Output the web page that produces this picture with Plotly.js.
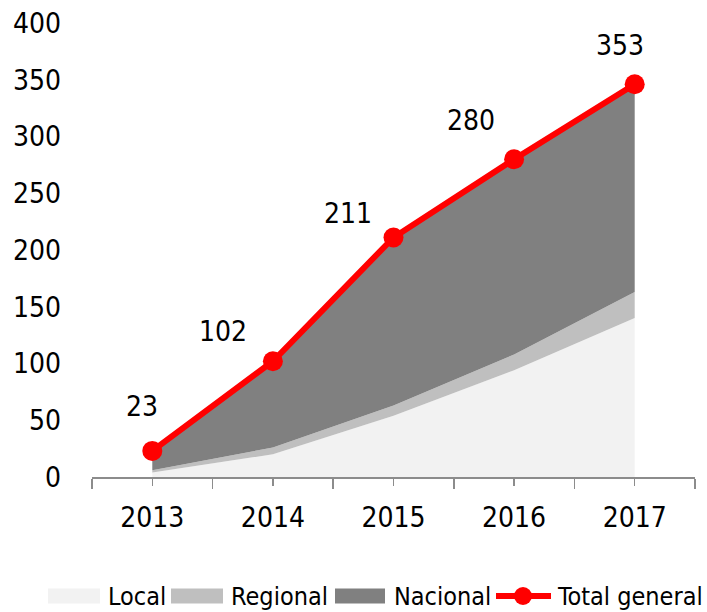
<!DOCTYPE html>
<html>
<head>
<meta charset="utf-8">
<script src="https://cdn.plot.ly/plotly-3.0.1.min.js"></script>
<style>
  html, body { margin: 0; padding: 0; background: #ffffff; }
  #chart { width: 707px; height: 612px; }
</style>
</head>
<body>
<div id="chart"></div>
<script>
// ---- data ----
const years = [2013, 2014, 2015, 2016, 2017];
const yearLabels = ["2013", "2014", "2015", "2016", "2017"];
const local = [4, 20, 54, 94, 140];
const regional = [2, 6, 9, 14, 23];
const nacional = [17, 76, 148, 172, 183];
const totalGeneral = [23, 102, 211, 280, 346];
const totalLabels = ["23", "102", "211", "280", "353"];
const seriesNames = ["Local", "Regional", "Nacional", "Total general"];
const yTicks = [0, 50, 100, 150, 200, 250, 300, 350, 400];

// ---- style ----
const FONT = '"DejaVu Sans Condensed", "Liberation Sans", sans-serif';
const colors = ["#f2f2f2", "#bfbfbf", "#808080", "#ff0000"];
const axisGray = "#8c8c8c";
const M = { l: 92, r: 12, t: 23, b: 135 };
const W = 707, H = 612;
const PW = W - M.l - M.r, PH = H - M.t - M.b;
const px2x = px => (px - M.l) / PW;
const py2y = py => (H - M.b - py) / PH;

// label offsets (pixels, relative to point) as in the original layout
const labelDx = [-10, -50, -46, -43, -15];
const labelDy = [-44, -30, -24, -39, -39];

const areaSeries = [local, regional, nacional];
const traces = areaSeries.map((vals, i) => ({
  type: "scatter",
  mode: "none",
  x: years,
  y: vals,
  name: seriesNames[i],
  stackgroup: "one",
  fillcolor: colors[i],
  line: { width: 0 },
  showlegend: false,
  hoverinfo: "skip"
}));
traces.push({
  type: "scatter",
  mode: "lines+markers",
  x: years,
  y: totalGeneral,
  name: seriesNames[3],
  line: { color: colors[3], width: 6 },
  marker: { color: colors[3], size: 20 },
  showlegend: false,
  cliponaxis: false
});

const annotations = years.map((yr, i) => ({
  x: yr, y: totalGeneral[i], xref: "x", yref: "y",
  text: totalLabels[i], showarrow: false,
  xshift: labelDx[i], yshift: -labelDy[i],
  font: { family: FONT, size: 28, color: "#000" },
  xanchor: "center", yanchor: "middle"
}));

// custom legend (large swatches like the original)
const legY = 596;
const swatches = [[48, 100], [171, 223], [335, 385]];
const textStarts = [106, 229, 392, 555];
const shapes = [];
swatches.forEach((s, i) => {
  shapes.push({
    type: "rect", xref: "paper", yref: "paper",
    x0: px2x(s[0]), x1: px2x(s[1]), y0: py2y(legY + 7.5), y1: py2y(legY - 7.5),
    fillcolor: colors[i], line: { width: 0 }
  });
});
shapes.push({
  type: "line", xref: "paper", yref: "paper",
  x0: px2x(496), x1: px2x(551), y0: py2y(legY), y1: py2y(legY),
  line: { color: colors[3], width: 6 }
});
shapes.push({
  type: "circle", xref: "paper", yref: "paper",
  x0: px2x(514), x1: px2x(532), y0: py2y(legY + 9), y1: py2y(legY - 9),
  fillcolor: colors[3], line: { width: 0 }
});
seriesNames.forEach((nm, i) => {
  annotations.push({
    xref: "paper", yref: "paper", x: px2x(textStarts[i]), y: py2y(legY),
    text: nm, showarrow: false, xanchor: "left", yanchor: "middle",
    font: { family: FONT, size: 25, color: "#000" }
  });
});

const halfTicks = [2012.5, 2013.5, 2014.5, 2015.5, 2016.5, 2017.5];

const layout = {
  width: W, height: H,
  margin: M,
  paper_bgcolor: "#fff", plot_bgcolor: "#fff",
  showlegend: false,
  font: { family: FONT, size: 28, color: "#000" },
  xaxis: {
    range: [2012.5, 2017.5],
    tickmode: "array", tickvals: years, ticktext: yearLabels,
    ticks: "outside", ticklen: 7, tickwidth: 1.5, tickcolor: axisGray,
    minor: { tickmode: "array", tickvals: halfTicks, ticks: "outside", ticklen: 10, tickwidth: 1.5, tickcolor: axisGray },
    showline: true, linecolor: axisGray, linewidth: 1.5,
    showgrid: false, zeroline: false,
    tickfont: { family: FONT, size: 28, color: "#000" },
    ticklabelstandoff: 8,
    fixedrange: true
  },
  xaxis2: {
    overlaying: "x", anchor: "y",
    range: [2012.5, 2017.5],
    tickmode: "array", tickvals: years,
    ticks: "inside", ticklen: 7, tickwidth: 1.5, tickcolor: axisGray,
    minor: { tickmode: "array", tickvals: halfTicks, ticks: "inside", ticklen: 10, tickwidth: 1.5, tickcolor: axisGray },
    showticklabels: false, showline: false, showgrid: false, zeroline: false
  },
  yaxis: {
    range: [0, 400],
    tickmode: "array", tickvals: yTicks, ticktext: yTicks.map(String),
    ticks: "", showline: false, showgrid: false, zeroline: false,
    tickfont: { family: FONT, size: 28, color: "#000" },
    ticklabelstandoff: 30,
    fixedrange: true
  },
  annotations: annotations,
  shapes: shapes
};

Plotly.newPlot("chart", traces, layout, { displayModeBar: false, staticPlot: true });
</script>
</body>
</html>
